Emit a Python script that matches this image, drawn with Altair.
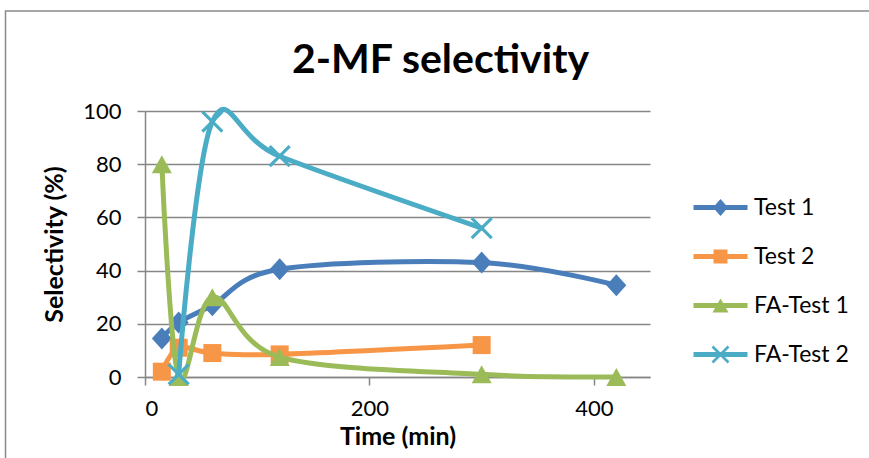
import math

import altair as alt
import pandas as pd

# Series data: time (min) and 2-MF selectivity (%)
series_names = ["Test 1", "Test 2", "FA-Test 1", "FA-Test 2"]
series_colors = ["#4A7EBB", "#F79646", "#9BBB59", "#4BACC6"]

time_test1 = [15, 30, 60, 120, 300, 420]
sel_test1 = [14.5, 20.5, 27, 40.5, 43, 34.5]

time_test2 = [15, 30, 60, 120, 300]
sel_test2 = [2, 11, 9, 8.5, 12]

time_fa1 = [15, 30, 60, 120, 300, 420]
sel_fa1 = [80, 0, 30, 7.5, 1, 0]

time_fa2 = [30, 60, 120, 300]
sel_fa2 = [1, 96, 83, 56]

x_ticks = [0, 200, 400]
y_ticks = [0, 20, 40, 60, 80, 100]

times = [time_test1, time_test2, time_fa1, time_fa2]
values = [sel_test1, sel_test2, sel_fa1, sel_fa2]

df = pd.DataFrame(
    [
        {"Series": name, "Time": t, "Selectivity": v, "order": i}
        for name, ts, vs in zip(series_names, times, values)
        for i, (t, v) in enumerate(zip(ts, vs))
    ]
)


# ---- marker shapes (SVG paths in symbol units) ----
def fmt(v):
    return f"{v:.3f}"


def poly(points):
    return "M" + "L".join(f"{fmt(x)},{fmt(y)}" for x, y in points) + "Z"


def diamond(w, h):
    return poly([(0, -h), (w, 0), (0, h), (-w, 0)])


def square(s):
    return poly([(-s, -s), (s, -s), (s, s), (-s, s)])


def triangle(w, h):
    return poly([(0, -h), (w, h), (-w, h)])


def xmark(a, t):
    d = t / math.sqrt(2)
    arm1 = poly([(-a + d, -a - d), (a + d, a - d), (a - d, a + d), (-a - d, -a + d)])
    arm2 = poly([(a + d, -a + d), (-a + d, a + d), (-a - d, a - d), (a - d, -a - d)])
    return arm1 + arm2


def bar(half_len, half_thick):
    return poly([(-half_len, -half_thick), (half_len, -half_thick),
                 (half_len, half_thick), (-half_len, half_thick)])


plot_markers = [
    diamond(1.0, 1.1),
    square(0.9),
    triangle(1.0, 0.9),
    xmark(1.0, 0.16),
]

legend_line = bar(2.7, 0.25)
legend_markers = [
    legend_line + diamond(0.75, 0.85),
    legend_line + square(0.7),
    legend_line + triangle(0.8, 0.7),
    legend_line + xmark(0.8, 0.13),
]

FONT = "Lato"
GRID = "#868686"

color_scale = alt.Scale(domain=series_names, range=series_colors)
x_enc = alt.X(
    "Time:Q",
    scale=alt.Scale(domain=[0, 450], nice=False),
    axis=alt.Axis(
        values=x_ticks,
        title="Time (min)",
        grid=False,
        tickSize=8,
        labelPadding=13,
        titlePadding=5,
    ),
)
y_enc = alt.Y(
    "Selectivity:Q",
    scale=alt.Scale(domain=[0, 100], nice=False),
    axis=alt.Axis(
        values=y_ticks,
        title="Selectivity (%)",
        grid=True,
        tickSize=8,
        labelPadding=16,
        titlePadding=15,
    ),
)

base = alt.Chart(df)

legend_kw = dict(
    title=None,
    orient="none",
    legendX=564,
    legendY=85,
    symbolSize=400,
    symbolStrokeWidth=0,
    symbolOpacity=1,
    labelFont=FONT,
    labelFontSize=23,
    labelColor="#000000",
    labelOffset=22,
    rowPadding=25,
    labelLimit=300,
)

# Invisible copy of the points that only carries the series legend
legend_layer = base.mark_point(filled=True, opacity=0).encode(
    x=x_enc,
    y=y_enc,
    color=alt.Color("Series:N", scale=color_scale, legend=alt.Legend(**legend_kw)),
    shape=alt.Shape(
        "Series:N",
        scale=alt.Scale(domain=series_names, range=legend_markers),
        legend=alt.Legend(**legend_kw),
    ),
)

# Outer chart frame
frame = base.mark_rect(
    fill=None, stroke="#8A8A8A", strokeWidth=1.5
).encode(
    x=alt.value(-139.5), x2=alt.value(740), y=alt.value(-100), y2=alt.value(370)
).transform_filter("datum.order == 0 && datum.Series == 'Test 1'")

layers = [legend_layer, frame]
for name, marker in zip(series_names, plot_markers):
    sub = base.transform_filter(alt.datum.Series == name)
    line = sub.mark_line(
        interpolate="cardinal",
        tension=0,
        strokeWidth=5,
        strokeCap="round",
        strokeJoin="round",
    ).encode(
        x=x_enc,
        y=y_enc,
        order="order:Q",
        color=alt.Color("Series:N", scale=color_scale, legend=None),
    )
    pts = sub.mark_point(
        shape=marker, filled=True, size=400, opacity=1, strokeWidth=0
    ).encode(
        x=x_enc,
        y=y_enc,
        color=alt.Color("Series:N", scale=color_scale, legend=None),
    )
    layers += [line, pts]

chart = (
    alt.layer(*layers)
    .properties(
        width=505,
        height=266,
        padding={"left": 145, "top": 111, "right": 219, "bottom": 81},
        autosize=alt.AutoSizeParams(type="none"),
        title=alt.TitleParams(
            "2-MF selectivity",
            font=FONT,
            fontSize=41,
            fontWeight="bold",
            color="#000000",
            anchor="middle",
            dx=43,
            offset=-104,
            baseline="alphabetic",
        ),
    )
    .configure(font=FONT, background="white")
    .configure_view(stroke=None)
    .configure_axis(
        labelFont=FONT,
        labelFontSize=22,
        labelColor="#000000",
        titleFont=FONT,
        titleFontSize=25,
        titleFontWeight="bold",
        titleColor="#000000",
        domainColor=GRID,
        domainWidth=1.5,
        tickColor=GRID,
        tickWidth=1.5,
        gridColor=GRID,
        gridWidth=1.5,
    )
)

chart.save("out.html", embed_options={"renderer": "svg", "actions": False})
